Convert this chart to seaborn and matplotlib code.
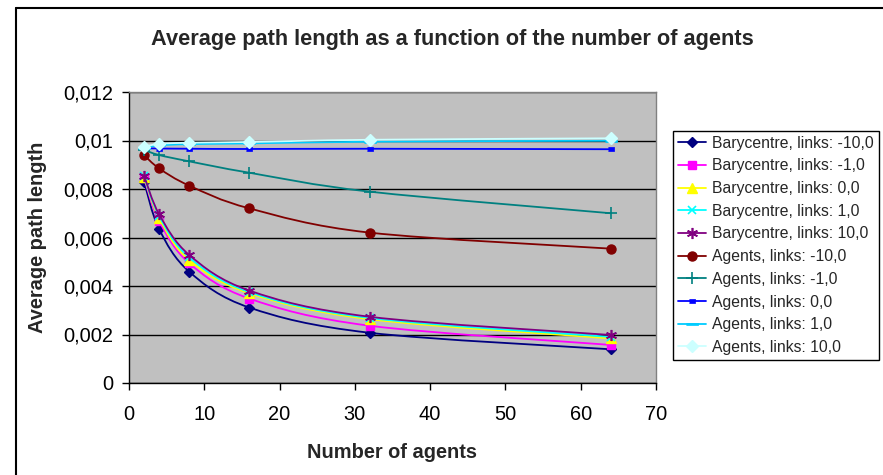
import matplotlib
matplotlib.use("Agg")
import matplotlib.pyplot as plt
from matplotlib.path import Path
from matplotlib.patches import PathPatch
from matplotlib.lines import Line2D
from matplotlib.ticker import FuncFormatter, MultipleLocator
import numpy as np
import seaborn as sns

# Number of agents (x values)
agents = [2, 4, 8, 16, 32, 64]

# Average path length per configuration
bary_m10 = [0.00830, 0.00635, 0.00459, 0.00311, 0.00207, 0.00139]
bary_m1 = [0.00844, 0.00668, 0.00494, 0.00348, 0.00236, 0.00157]
bary_0 = [0.00850, 0.00679, 0.00507, 0.00370, 0.00263, 0.00184]
bary_1 = [0.00852, 0.00688, 0.00518, 0.00375, 0.00268, 0.00190]
bary_10 = [0.00855, 0.00696, 0.00528, 0.00381, 0.00273, 0.00198]
agents_m10 = [0.00940, 0.00885, 0.00814, 0.00720, 0.00620, 0.00554]
agents_m1 = [0.00961, 0.00940, 0.00914, 0.00867, 0.00789, 0.00700]
agents_0 = [0.00968, 0.00967, 0.00966, 0.00965, 0.00966, 0.00964]
agents_1 = [0.00970, 0.00980, 0.00985, 0.00988, 0.00995, 0.00999]
agents_10 = [0.00974, 0.00986, 0.00991, 0.00994, 0.01003, 0.01009]

series_labels = [
    "Barycentre, links: -10,0",
    "Barycentre, links: -1,0",
    "Barycentre, links: 0,0",
    "Barycentre, links: 1,0",
    "Barycentre, links: 10,0",
    "Agents, links: -10,0",
    "Agents, links: -1,0",
    "Agents, links: 0,0",
    "Agents, links: 1,0",
    "Agents, links: 10,0",
]
series_values = [bary_m10, bary_m1, bary_0, bary_1, bary_10,
                 agents_m10, agents_m1, agents_0, agents_1, agents_10]

x_ticks = [0, 10, 20, 30, 40, 50, 60, 70]
title = "Average path length as a function of the number of agents"
x_label = "Number of agents"
y_label = "Average path length"

# Styling per series: colour, marker, marker size, edge width
short_dash = [(-1, -0.45), (1, -0.45), (1, 0.45), (-1, 0.45)]
long_dash = [(-1, -0.22), (1, -0.22), (1, 0.22), (-1, 0.22)]
styles = [
    ("#000080", "D", 5.5, 1.0),
    ("#FF00FF", "s", 6.0, 1.0),
    ("#FFFF00", "^", 6.5, 1.0),
    ("#00FFFF", "x", 6.0, 1.2),
    ("#800080", (6, 2, 0), 8.0, 1.2),
    ("#800000", "o", 6.5, 1.0),
    ("#008080", "+", 8.0, 1.2),
    ("#0000FF", short_dash, 5.0, 0.5),
    ("#00CCFF", long_dash, 8.0, 0.5),
    ("#CCFFFF", "D", 6.5, 1.0),
]


def smooth_path(xs, ys):
    """Catmull-Rom style Bezier path through the points (spreadsheet smoothing)."""
    p = np.column_stack([xs, ys]).astype(float)
    ext = np.vstack([p[0], p, p[-1]])
    verts = [p[0]]
    codes = [Path.MOVETO]
    for i in range(len(p) - 1):
        p0, p1, p2, p3 = ext[i], ext[i + 1], ext[i + 2], ext[i + 3]
        verts += [p1 + (p2 - p0) / 6.0, p2 - (p3 - p1) / 6.0, p2]
        codes += [Path.CURVE4] * 3
    return Path(verts, codes)


sns.set_style("white")
plt.rcParams["font.family"] = ["Liberation Sans", "DejaVu Sans"]

W, H = 883, 475
fig = plt.figure(figsize=(W / 100, H / 100), dpi=100)
fig.patch.set_facecolor("white")

# chart border (top and left edges visible)
fig.add_artist(Line2D([16 / W, 16 / W], [0, 1 - 8 / H], transform=fig.transFigure,
                      color="black", lw=1.5))
fig.add_artist(Line2D([16 / W, 1], [1 - 8 / H, 1 - 8 / H], transform=fig.transFigure,
                      color="black", lw=1.5))

ax = fig.add_axes([129 / W, 1 - 383 / H, (656 - 129) / W, (383 - 92) / H])
ax.set_facecolor("#C0C0C0")

handles = []
for k, (lab, vals, (col, mk, ms, mew)) in enumerate(zip(series_labels, series_values, styles)):
    z = 3 + k
    ax.add_patch(PathPatch(smooth_path(agents, vals), fc="none", ec=col, lw=1.3, zorder=z))
    sns.lineplot(x=agents, y=vals, ax=ax, color=col, marker=mk, markersize=ms,
                 markerfacecolor=col, markeredgecolor=col, markeredgewidth=mew,
                 linestyle="", errorbar=None, sort=False, zorder=z + 0.5)
    handles.append(Line2D([], [], color=col, lw=1.3, marker=mk, markersize=ms,
                          markerfacecolor=col, markeredgecolor=col, markeredgewidth=mew))

ax.set_xlim(0, 70)
ax.set_ylim(0, 0.012)
ax.set_xticks(x_ticks)
ax.yaxis.set_major_locator(MultipleLocator(0.002))
ax.yaxis.set_major_formatter(FuncFormatter(lambda v, _: f"{v:g}".replace(".", ",")))
ax.set_xlabel("")
ax.set_ylabel("")

ax.set_axisbelow(True)
ax.yaxis.grid(True, color="black", lw=1)
ax.xaxis.grid(False)
for s in ("left", "bottom"):
    ax.spines[s].set_color("black")
    ax.spines[s].set_linewidth(1)
for s in ("top", "right"):
    ax.spines[s].set_color("#808080")
    ax.spines[s].set_linewidth(1)

ax.tick_params(axis="both", direction="out", length=5, width=1, colors="black",
               labelsize=14.4, bottom=True, left=True)
ax.tick_params(axis="x", pad=11)
ax.tick_params(axis="y", pad=6.5)

fig.text(452 / W, 1 - 39 / H, title, ha="center", va="center",
         fontsize=15.7, fontweight="bold")
fig.text(392 / W, 1 - 452 / H, x_label, ha="center", va="center",
         fontsize=14.4, fontweight="bold")
fig.text(38 / W, 1 - 237 / H, y_label, ha="center", va="center", rotation=90,
         fontsize=14.4, fontweight="bold")

leg = fig.legend(handles, series_labels, loc="upper left",
                 bbox_to_anchor=(673 / W, 1 - 131 / H), bbox_transform=fig.transFigure,
                 fontsize=11.3, frameon=True, fancybox=False, borderaxespad=0,
                 handlelength=1.8, handletextpad=0.4, labelspacing=0.49,
                 borderpad=0.3, framealpha=1)
leg.get_frame().set_edgecolor("black")
leg.get_frame().set_linewidth(1)

fig.savefig("out.png", dpi=100)
